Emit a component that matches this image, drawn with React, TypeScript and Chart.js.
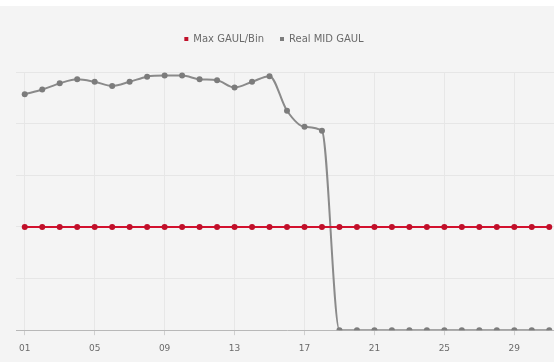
import React, { useEffect, useRef } from "react";
import { Chart, registerables } from "chart.js";

Chart.register(...registerables);

const days: string[] = [
  "01", "02", "03", "04", "05", "06", "07", "08", "09", "10",
  "11", "12", "13", "14", "15", "16", "17", "18", "19", "20",
  "21", "22", "23", "24", "25", "26", "27", "28", "29", "30", "31",
];

const maxGaulPerBin: number[] = [
  20, 20, 20, 20, 20, 20, 20, 20, 20, 20,
  20, 20, 20, 20, 20, 20, 20, 20, 20, 20,
  20, 20, 20, 20, 20, 20, 20, 20, 20, 20, 20,
];

const realMidGaul: number[] = [
  45.7, 46.6, 47.8, 48.6, 48.1, 47.3, 48.1, 49.1, 49.3, 49.3,
  48.6, 48.4, 47.0, 48.1, 49.2, 42.5, 39.4, 38.6, 0, 0,
  0, 0, 0, 0, 0, 0, 0, 0, 0, 0, 0,
];

const FONT = "'DejaVu Sans', sans-serif";
const CANVAS_W = 562;
const CANVAS_H = 356;

// Adds room below the legend and shifts it left to sit over the visible area.
const legendSpacer = {
  id: "legendSpacer",
  afterInit(chart: any) {
    const legend = chart.legend;
    if (!legend) return;
    const fit = legend.fit;
    legend.fit = function () {
      fit.call(this);
      this.height += 18;
    };
    const draw = legend.draw;
    legend.draw = function () {
      const ctx = this.ctx;
      ctx.save();
      ctx.translate(-15, 0);
      draw.call(this);
      ctx.restore();
    };
  },
};

export default function App() {
  const canvasRef = useRef<HTMLCanvasElement | null>(null);

  useEffect(() => {
    document.body.style.margin = "0";
    const canvas = canvasRef.current;
    if (!canvas) return;
    const chart = new Chart(canvas, {
      type: "line",
      data: {
        labels: days,
        datasets: [
          {
            label: "Max GAUL/Bin",
            data: maxGaulPerBin,
            borderColor: "#d3112e",
            backgroundColor: "#c0102a",
            borderWidth: 2,
            pointRadius: 3,
            pointBorderWidth: 0,
            tension: 0,
          },
          {
            label: "Real MID GAUL",
            data: realMidGaul,
            borderColor: "#8a8a8a",
            backgroundColor: "#7c7c7c",
            borderWidth: 2,
            pointRadius: 3,
            pointBorderWidth: 0,
            cubicInterpolationMode: "monotone",
          },
        ],
      },
      plugins: [legendSpacer],
      options: {
        animation: false,
        responsive: false,
        maintainAspectRatio: false,
        layout: { padding: { left: 16, right: 0, top: 12, bottom: 0 } },
        plugins: {
          tooltip: { enabled: false },
          legend: {
            display: true,
            position: "top",
            labels: {
              usePointStyle: true,
              pointStyle: "rect",
              boxWidth: 4,
              boxHeight: 4,
              padding: 16,
              color: "#6a6a6a",
              font: { family: FONT, size: 10 },
            },
          },
        },
        scales: {
          x: {
            offset: true,
            afterFit: (scale: any) => {
              scale.paddingLeft = 0;
              scale.paddingRight = 0;
            },
            border: { display: true, color: "#b8b8b8", width: 1 },
            grid: {
              color: (ctx: any) =>
                ctx.index % 4 === 0 ? "rgba(0,0,0,0.05)" : "rgba(0,0,0,0)",
              tickColor: (ctx: any) =>
                ctx.index % 4 === 0 ? "#d0d0d0" : "rgba(0,0,0,0)",
              tickLength: 5,
            },
            ticks: {
              autoSkip: false,
              maxRotation: 0,
              color: "#6a6a6a",
              font: { family: FONT, size: 9 },
              padding: 8,
              callback: (_v: any, i: number) => (i % 4 === 0 ? days[i] : ""),
            },
          },
          y: {
            min: 0,
            max: 50,
            border: { display: false },
            grid: { color: "#e6e6e6", drawTicks: false },
            ticks: { display: false, stepSize: 10 },
          },
        },
      },
    });
    return () => chart.destroy();
  }, []);

  return (
    <div style={{ width: 554, height: 362, background: "#ffffff", position: "relative" }}>
      <div
        style={{
          position: "absolute",
          top: 6,
          left: 0,
          width: 554,
          height: CANVAS_H,
          background: "#f4f4f4",
          overflow: "hidden",
        }}
      >
        <canvas
          ref={canvasRef}
          width={CANVAS_W}
          height={CANVAS_H}
          style={{ display: "block", width: CANVAS_W, height: CANVAS_H }}
        />
      </div>
    </div>
  );
}
